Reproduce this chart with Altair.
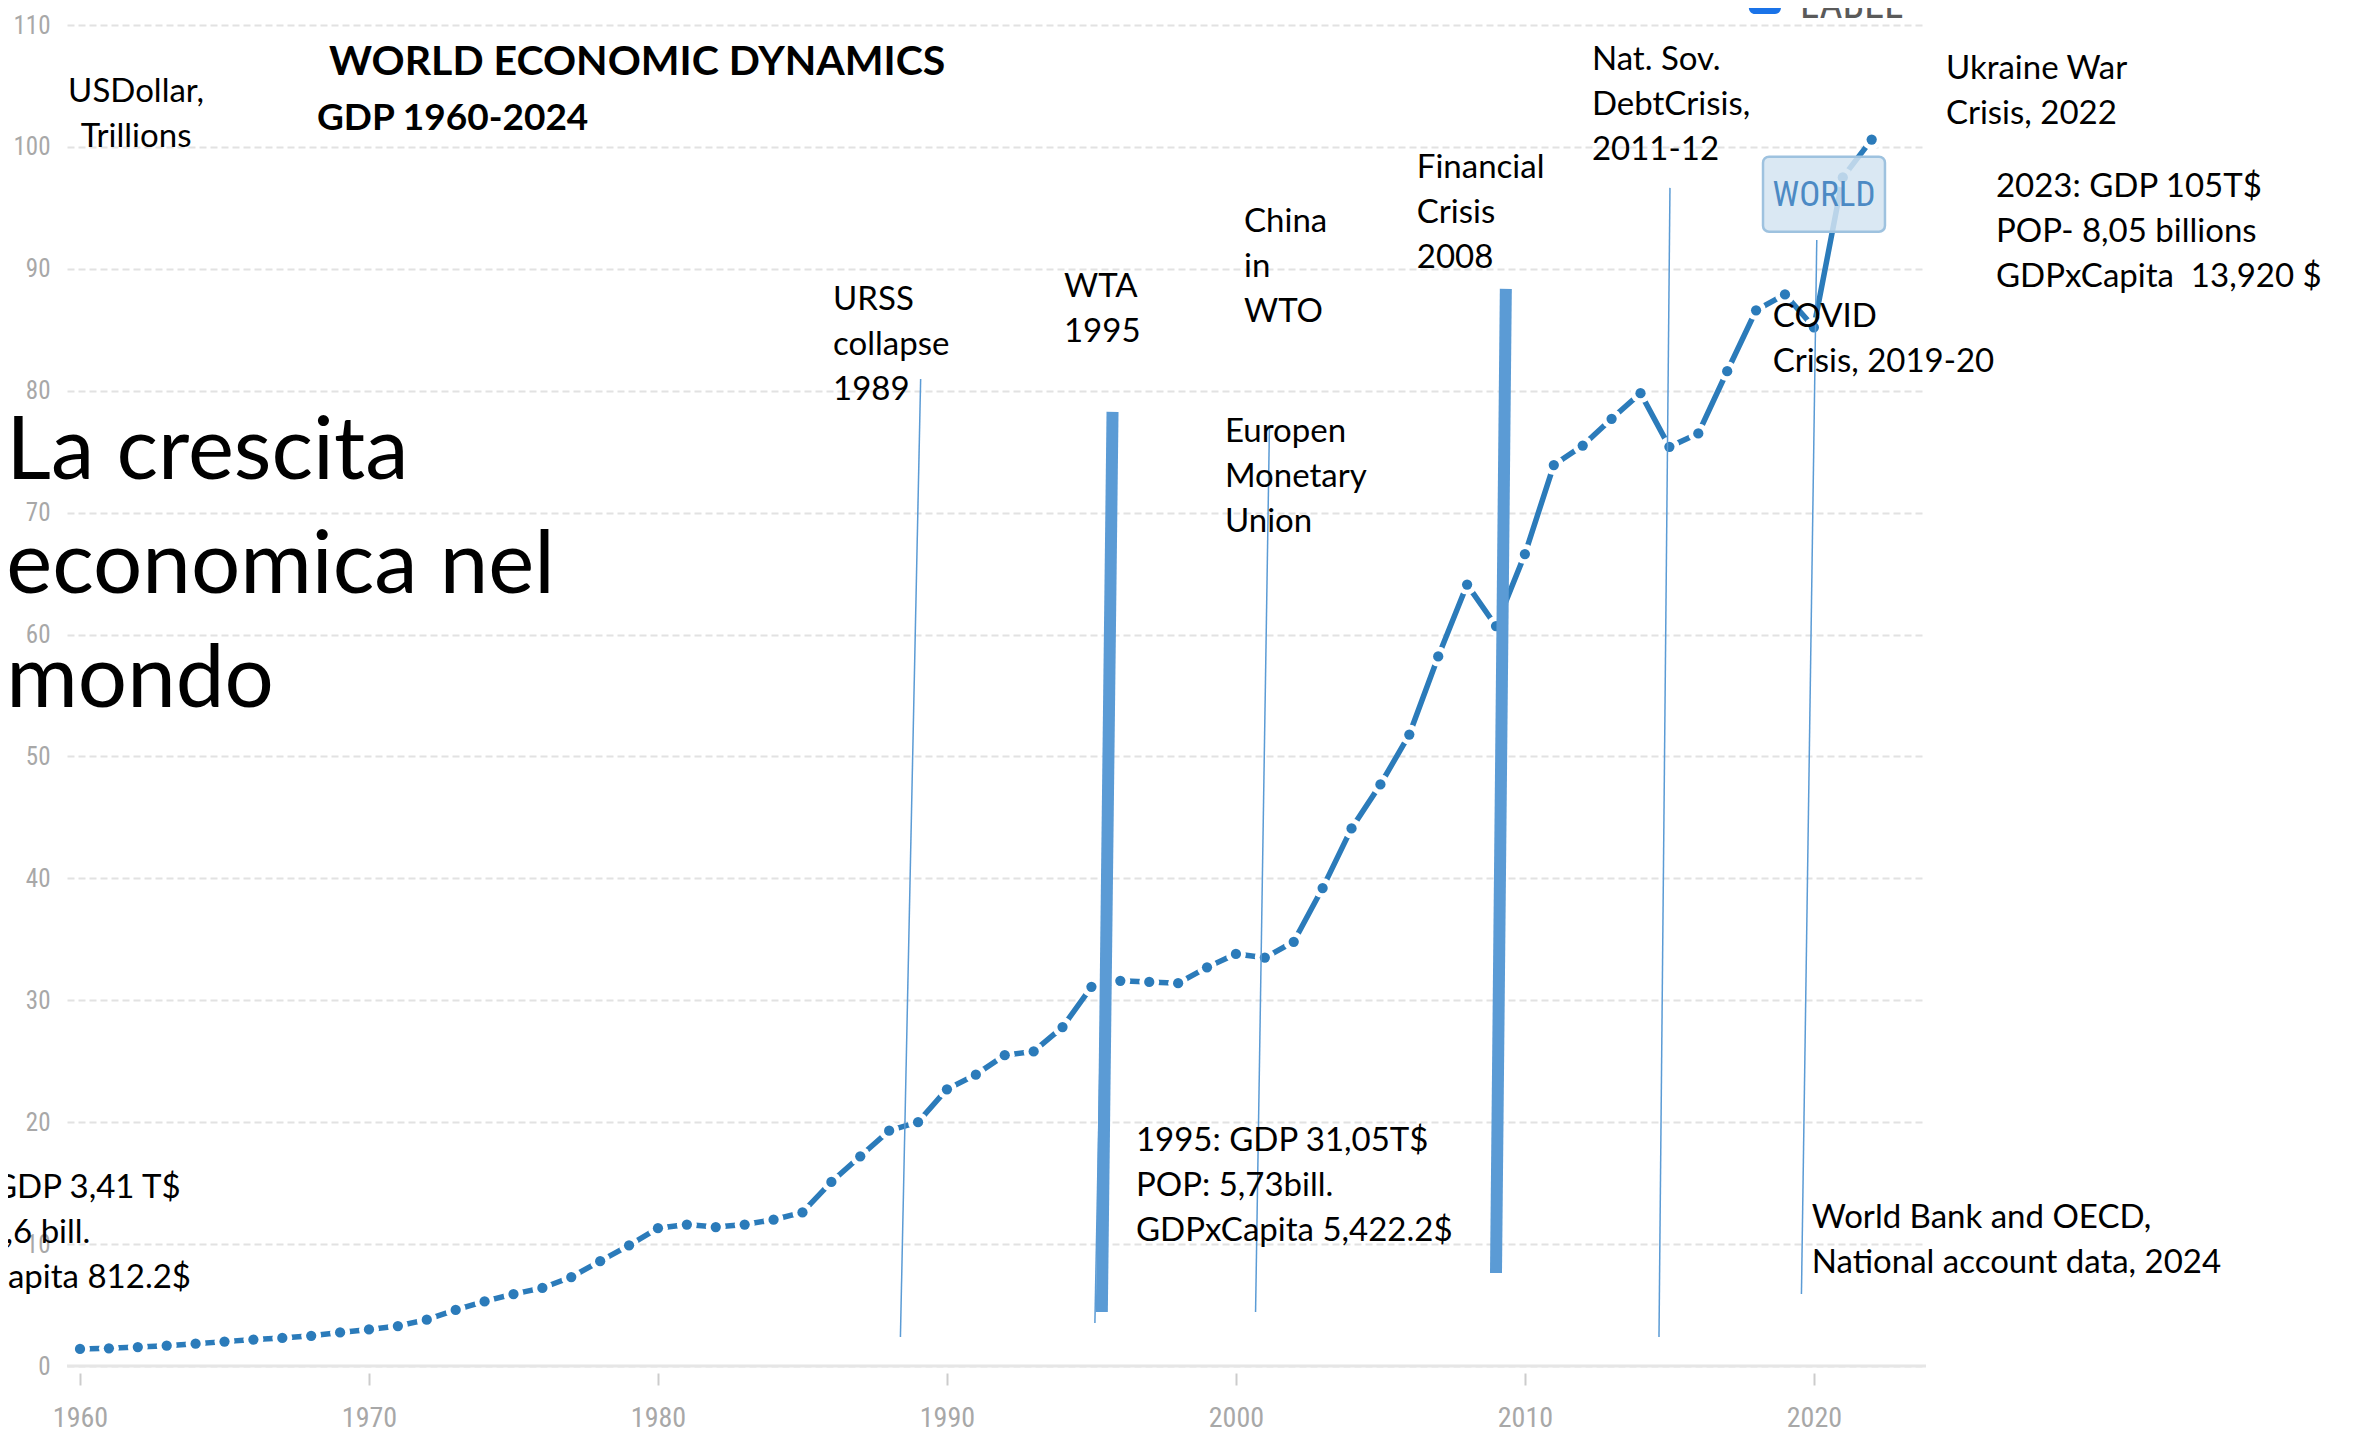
import altair as alt
import pandas as pd

# ---------------- data ----------------
years = list(range(1960, 2023))
gdp = [1.40, 1.45, 1.55, 1.67, 1.83, 2.00, 2.17, 2.30, 2.48, 2.75,
       3.00, 3.28, 3.80, 4.60, 5.30, 5.90, 6.40, 7.30, 8.60, 9.90,
       11.30, 11.60, 11.40, 11.60, 12.00, 12.60, 15.10, 17.20, 19.30, 20.00,
       22.70, 23.90, 25.50, 25.80, 27.80, 31.10, 31.60, 31.50, 31.40, 32.70,
       33.80, 33.50, 34.80, 39.20, 44.10, 47.70, 51.80, 58.20, 64.10, 60.70,
       66.60, 73.90, 75.50, 77.70, 79.80, 75.40, 76.50, 81.60, 86.60, 87.90,
       85.20, 97.50, 100.60]

x_ticks = [1960, 1970, 1980, 1990, 2000, 2010, 2020]
y_ticks = [0, 10, 20, 30, 40, 50, 60, 70, 80, 90, 100, 110]

# event marker lines (year/value anchors of the hand-drawn lines)
thin_x1 = [1989.09, 1995.73, 2001.16, 2015.02, 2020.10]
thin_y1 = [80.97, 78.26, 77.03, 96.64, 92.37]
thin_x2 = [1988.39, 1995.12, 2000.68, 2014.64, 2019.57]
thin_y2 = [2.38, 3.53, 4.43, 2.38, 5.91]

bar_x1 = [1995.73, 2009.34]
bar_y1 = [78.26, 88.35]
bar_x2 = [1995.36, 2009.00]
bar_y2 = [4.43, 7.63]

# annotation texts and anchors (year, value)
event_text = ["URSS\ncollapse\n1989", "WTA\n1995", "China\nin\nWTO",
              "Europen\nMonetary\nUnion", "Financial\nCrisis\n2008",
              "Nat. Sov.\nDebtCrisis,\n2011-12", "Ukraine War\nCrisis, 2022",
              "2023: GDP 105T$\nPOP- 8,05 billions\nGDPxCapita\u00a0 13,920 $",
              "COVID\nCrisis, 2019-20",
              "1995: GDP 31,05T$\nPOP: 5,73bill.\nGDPxCapita 5,422.2$",
              "World Bank and OECD,\nNational account data, 2024"]
event_year = [1986.06, 1994.05, 2000.28, 1999.62, 2006.26, 2012.32, 2024.57,
              2026.30, 2018.58, 1996.54, 2019.93]
event_value = [86.63, 87.69, 93.03, 75.80, 97.46, 106.32, 105.58, 95.90,
               85.23, 17.64, 11.32]

start_text = ["1960: GDP 3,41 T$", "POP: 3,6 bill.", "GDPxCapita 812.2$"]
start_year = [1963.48, 1960.36, 1963.84]
start_value = [13.78, 10.09, 6.40]

unit_text = ["USDollar,\nTrillions"]
unit_year = [1961.94]
unit_value = [103.69]

title_text = ["WORLD ECONOMIC DYNAMICS"]
title_year = [1968.62]
title_value = [105.91]
subtitle_text = ["GDP 1960-2024"]
subtitle_year = [1968.20]
subtitle_value = [101.39]

headline_text = ["La crescita\neconomica nel\nmondo"]
headline_year = [1957.45]
headline_value = [72.76]

world_label = ["WORLD"]
world_year = [2020.35]
world_value = [96.06]
world_box_x = [2018.24, 2022.46]
world_box_y = [93.04, 99.20]

legend_label = ["LABEL"]
legend_year = [2019.52]
legend_value = [110.55]
legend_box_x = [2017.75, 2018.86]
legend_box_y = [110.9, 113.5]

# ---------------- styling ----------------
BLUE = "#2b7bba"
EVENT_BLUE = "#5b9bd5"
NARROW = "'Liberation Sans Narrow', 'Roboto Condensed', Roboto, sans-serif"
TEXT_FONT = "Lato"

xs = alt.Scale(domain=[1959.55, 2023.88], nice=False, zero=False)
ys = alt.Scale(domain=[0, 110], nice=False, zero=False)
xaxis = alt.Axis(values=x_ticks, format="d", grid=False, domain=False, ticks=True,
                 tickSize=12, tickWidth=2, tickColor="#cccccc", offset=7,
                 labelFont=NARROW, labelFontSize=28, labelColor="#a8a8a8",
                 labelPadding=19)
yaxis = alt.Axis(values=y_ticks, grid=True, gridDash=[7, 4], gridColor="#e2e2e2",
                 gridWidth=2, domain=False, ticks=False, tickSize=0,
                 labelFont=NARROW, labelFontSize=25, labelColor="#a8a8a8",
                 labelPadding=17)
X = alt.X("x:Q", scale=xs, axis=xaxis, title=None)
Y = alt.Y("y:Q", scale=ys, axis=yaxis, title=None)

gdp_df = pd.DataFrame({"x": years, "y": gdp})

baseline = alt.Chart(pd.DataFrame({"y": [0]})).mark_rule(
    color="#e6e6e6", strokeWidth=3).encode(y=Y)

line = alt.Chart(gdp_df).mark_line(color=BLUE, strokeWidth=5.5).encode(x=X, y=Y)
halo = alt.Chart(gdp_df).mark_circle(size=400, color="white", opacity=1).encode(x=X, y=Y)
dots = alt.Chart(gdp_df).mark_circle(size=105, color=BLUE, opacity=1).encode(x=X, y=Y)

world_box = alt.Chart(pd.DataFrame({
    "x": [world_box_x[0]], "x2": [world_box_x[1]],
    "y": [world_box_y[0]], "y2": [world_box_y[1]]})).mark_rect(
    cornerRadius=6, fill="#d3e4f1", fillOpacity=0.85, stroke="#9ec2df",
    strokeWidth=2.5).encode(x=X, x2="x2:Q", y=Y, y2="y2:Q")
world_txt = alt.Chart(pd.DataFrame({"x": world_year, "y": world_value,
                                    "t": world_label})).mark_text(
    font=NARROW, fontSize=35, color="#4c8ac4", align="center",
    baseline="middle").encode(x=X, y=Y, text="t:N")

thin = alt.Chart(pd.DataFrame({"x": thin_x1, "y": thin_y1,
                               "x2": thin_x2, "y2": thin_y2})).mark_rule(
    color=EVENT_BLUE, strokeWidth=1.5).encode(x=X, y=Y, x2="x2:Q", y2="y2:Q")
bars = alt.Chart(pd.DataFrame({"x": bar_x1, "y": bar_y1,
                               "x2": bar_x2, "y2": bar_y2})).mark_rule(
    color=EVENT_BLUE, strokeWidth=12, strokeCap="butt").encode(
    x=X, y=Y, x2="x2:Q", y2="y2:Q")


def text_layer(texts, xv, yv, **kw):
    df = pd.DataFrame({"x": xv, "y": yv, "t": texts})
    return alt.Chart(df).mark_text(lineBreak="\n", **kw).encode(x=X, y=Y, text="t:N")


events = text_layer(event_text, event_year, event_value, font=TEXT_FONT,
                    fontSize=33, lineHeight=45, align="left",
                    baseline="alphabetic", color="black")
start = text_layer(start_text, start_year, start_value, font=TEXT_FONT,
                   fontSize=33, align="right", baseline="alphabetic", color="black")
units = text_layer(unit_text, unit_year, unit_value, font=TEXT_FONT,
                   fontSize=33, lineHeight=45, align="center",
                   baseline="alphabetic", color="black")
title = text_layer(title_text, title_year, title_value, font=TEXT_FONT,
                   fontSize=41, fontWeight="bold", align="left",
                   baseline="alphabetic", color="black")
subtitle = text_layer(subtitle_text, subtitle_year, subtitle_value, font=TEXT_FONT,
                      fontSize=37, fontWeight="bold", align="left",
                      baseline="alphabetic", color="black")
headline = text_layer(headline_text, headline_year, headline_value, font=TEXT_FONT,
                      fontSize=87, lineHeight=114, align="left",
                      baseline="alphabetic", color="black")

legend_box = alt.Chart(pd.DataFrame({
    "x": [legend_box_x[0]], "x2": [legend_box_x[1]],
    "y": [legend_box_y[0]], "y2": [legend_box_y[1]]})).mark_rect(
    cornerRadius=6, fill="#1a73e8").encode(x=X, x2="x2:Q", y=Y, y2="y2:Q")
legend_txt = text_layer(legend_label, legend_year, legend_value, font=NARROW,
                        fontSize=40, align="left", baseline="alphabetic",
                        color="#5a5a5a")

chart = alt.layer(
    baseline, line, halo, dots, world_box, world_txt, thin, bars,
    events, start, units, title, subtitle, headline, legend_box, legend_txt
).properties(
    width=1859, height=1341,
    autosize=alt.AutoSizeParams(type="none"),
    padding={"left": 59, "top": 17, "right": 400, "bottom": 66},
).configure_view(stroke=None)

chart.save("out.html", embed_options={"renderer": "svg", "actions": False})
